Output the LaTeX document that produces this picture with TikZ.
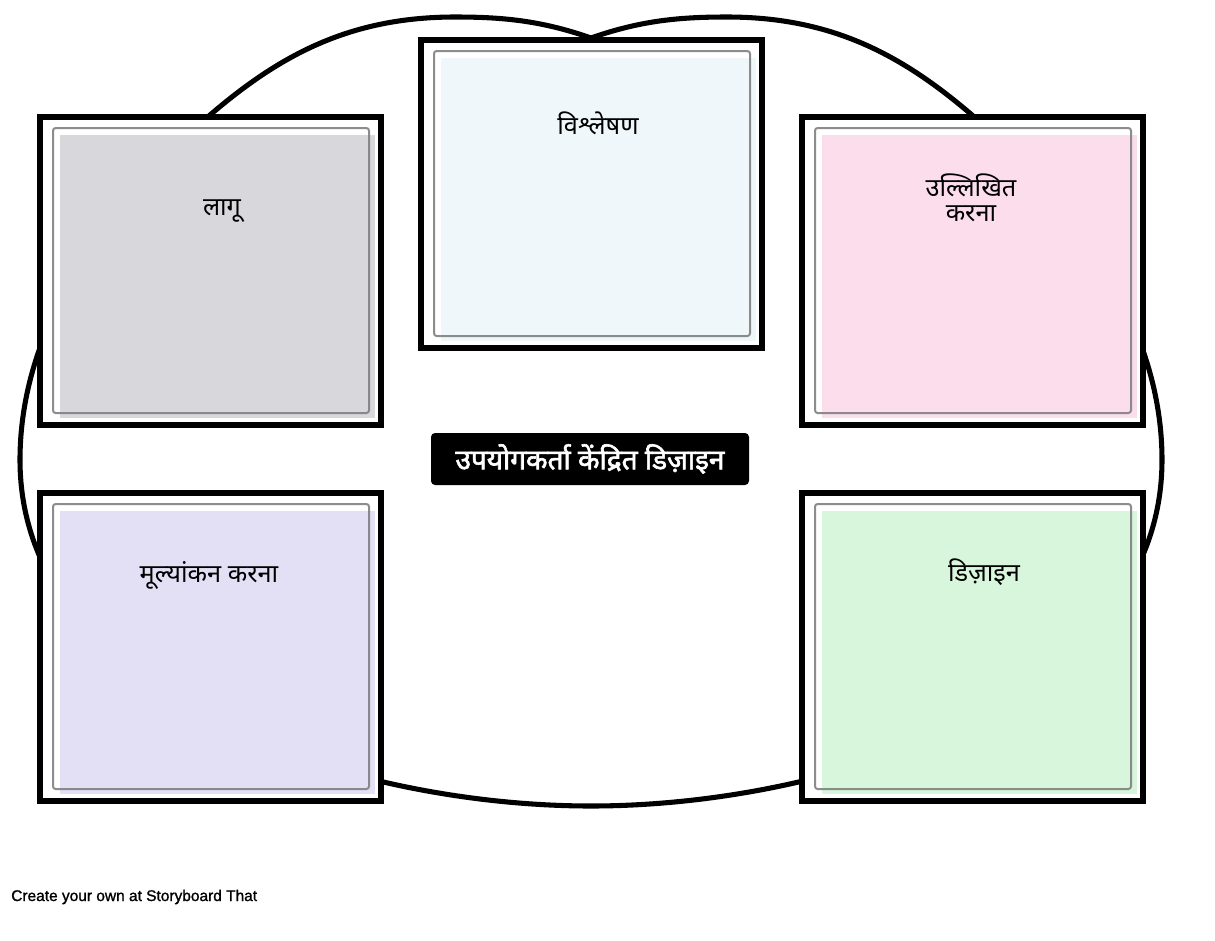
\documentclass[tikz,border=0pt]{standalone}
\usepackage{fontspec}
\setmainfont{Liberation Sans}
\newfontfamily\deva[Script=Devanagari]{Noto Sans}
\newfontfamily\devabold[Script=Devanagari,FakeBold=2.2]{Noto Sans}
\newfontfamily\creditfont[FakeBold=1.2]{Liberation Sans}
\usepackage{tikz}
\usepackage{xcolor}

\definecolor{applyfill}{HTML}{D8D7DC}
\definecolor{analysefill}{HTML}{F0F7FA}
\definecolor{specifyfill}{HTML}{FBDDEC}
\definecolor{evalfill}{HTML}{E3DFF5}
\definecolor{designfill}{HTML}{D8F6DB}

\begin{document}
\begin{tikzpicture}[x=0.75pt, y=-0.75pt,
    outline/.style={draw=black, line width=3.8pt},
    frame/.style={draw=black, line width=3.8pt, fill=white},
    cardedge/.style={draw=gray, line width=1.5pt, rounded corners=2pt, draw opacity=0.9},
    boxtext/.style={font=\deva\fontsize{19}{19}\selectfont, align=center, inner sep=0pt}]
    \useasboundingbox (0,0) rectangle (1215,940);

    % Outline behind the boxes (two lobes on top)
    \draw[outline] (591,38) .. controls (540,20) and (500,17) .. (455,17)
        .. controls (350,17) and (280,55) .. (210,115)
        .. controls (100,215) and (20,330) .. (20,460)
        .. controls (20,700) and (350,806) .. (591,806)
        .. controls (832,806) and (1162,700) .. (1162,460)
        .. controls (1162,330) and (1082,215) .. (972,115)
        .. controls (902,55) and (832,17) .. (727,17)
        .. controls (682,17) and (642,20) .. (591,38) -- cycle;

    % Five boxes: left, top, right x/y of frame corner and fill colour
    \foreach \bx/\by/\col in {40/117/applyfill, 421/40/analysefill, 802/117/specifyfill,
                             40/493/evalfill, 802/493/designfill} {
        \draw[frame] (\bx,\by) rectangle ++(341,308);
        \fill[\col] (\bx+20,\by+18) rectangle ++(315,283);
        \draw[cardedge] (\bx+13,\by+11) rectangle ++(316,285);
    }

    % Box labels
    \node[boxtext] (apply) at (222,211) {लागू};
    \node[boxtext] (analyse) at (598,123) {विश्लेषण};
    \node[boxtext] (specify) at (971,198) {उल्लिखित\\[0pt]करना};
    \node[boxtext] (evaluate) at (209,575) {मूल्यांकन करना};
    \node[boxtext] (design) at (984,572) {डिज़ाइन};

    % Centre title
    \node[fill=black, rounded corners=3pt, minimum width=238.5pt, minimum height=39pt,
          text=white, font=\devabold\fontsize{21}{21}\selectfont] (ucd) at (590,459)
          {उपयोगकर्ता केंद्रित डिज़ाइन};

    \node[anchor=west, inner sep=0pt, font=\creditfont\fontsize{11.6}{12}\selectfont] (credit) at (11,897)
          {Create your own at Storyboard That};
\end{tikzpicture}
\end{document}
